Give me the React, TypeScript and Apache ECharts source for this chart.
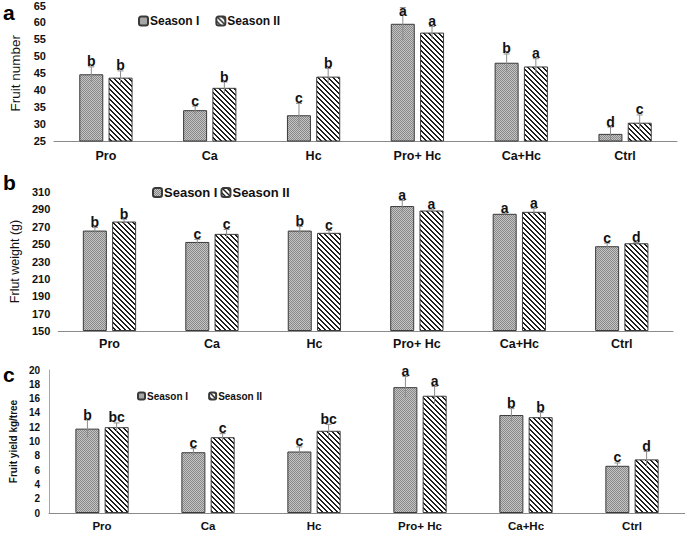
import React, { useEffect, useRef } from "react";
import * as echarts from "echarts";

const categories = ["Pro", "Ca", "Hc", "Pro+ Hc", "Ca+Hc", "Ctrl"];
const seasonNames = ["Season I", "Season II"];

// Panel a: Fruit number
const numberTicks = { min: 25, max: 65, step: 5 };
const numberS1 = [44.7, 34.1, 32.6, 59.6, 48.1, 27.1];
const numberS2 = [43.7, 40.7, 44.0, 57.0, 47.0, 30.4];
const numberErrS1 = [2.2, 1.2, 3.5, 4.8, 2.6, 2.0];
const numberErrS2 = [2.0, 1.7, 2.4, 1.8, 2.3, 2.3];
const numberLetS1 = ["b", "c", "c", "a", "b", "d"];
const numberLetS2 = ["b", "b", "b", "a", "a", "c"];

// Panel b: Fruit weight (g)
const weightTicks = { min: 150, max: 310, step: 20 };
const weightS1 = [265.6, 252.5, 265.6, 293.8, 284.9, 247.6];
const weightS2 = [276.0, 261.8, 263.0, 288.7, 287.2, 251.0];
const weightErrS1 = [3.5, 3.0, 4.6, 6.5, 0.8, 3.5];
const weightErrS2 = [2.7, 5.0, 2.7, 0.8, 3.9, 0.8];
const weightLetS1 = ["b", "c", "b", "a", "a", "c"];
const weightLetS2 = ["b", "c", "c", "a", "a", "d"];

// Panel c: Fruit yield kg/tree
const yieldTicks = { min: 0, max: 20, step: 2 };
const yieldS1 = [11.8, 8.5, 8.6, 17.6, 13.7, 6.6];
const yieldS2 = [12.0, 10.6, 11.5, 16.4, 13.4, 7.5];
const yieldErrS1 = [1.2, 0.5, 0.65, 1.5, 0.9, 0.4];
const yieldErrS2 = [0.6, 0.5, 0.9, 1.3, 0.65, 1.1];
const yieldLetS1 = ["b", "c", "c", "a", "b", "c"];
const yieldLetS2 = ["bc", "c", "bc", "a", "b", "d"];

const FONT = "Arial, 'Liberation Sans', Helvetica, sans-serif";

function makeDots() {
  const n = 4;
  const c = document.createElement("canvas");
  c.width = n;
  c.height = n;
  const g = c.getContext("2d")!;
  for (let x = 0; x < n; x++) {
    for (let y = 0; y < n; y++) {
      g.fillStyle = (x + y) % 2 === 0 ? "#888888" : "#c4c4c4";
      g.fillRect(x, y, 1, 1);
    }
  }
  return c.toDataURL();
}

function makeStripes() {
  const n = 5;
  const c = document.createElement("canvas");
  c.width = n;
  c.height = n;
  const g = c.getContext("2d")!;
  g.fillStyle = "#ffffff";
  g.fillRect(0, 0, n, n);
  g.fillStyle = "#1e1e1e";
  for (let x = 0; x < n; x++) {
    for (let y = 0; y < n; y++) {
      if ((((x - y) % n) + n) % n < 2) g.fillRect(x, y, 1, 1);
    }
  }
  return c.toDataURL();
}

export default function App() {
  const ref = useRef<HTMLDivElement>(null);

  useEffect(() => {
    if (!ref.current) return;
    const chart = echarts.init(ref.current, null, { renderer: "svg" });

    const dots = { image: makeDots(), repeat: "repeat", imageWidth: 4, imageHeight: 4 };
    const stripes = { image: makeStripes(), repeat: "repeat", imageWidth: 5, imageHeight: 5 };
    const fills = [dots, stripes];

    const BAR_W = 24;
    const GAP = "22%";
    const OFF = 14.6;

    const panels = [
      {
        s: [numberS1, numberS2],
        e: [numberErrS1, numberErrS2],
        l: [numberLetS1, numberLetS2],
        t: numberTicks,
        base: 0,
        minLabelY: 18,
      },
      {
        s: [weightS1, weightS2],
        e: [weightErrS1, weightErrS2],
        l: [weightLetS1, weightLetS2],
        t: weightTicks,
        base: weightTicks.min,
        minLabelY: -999,
      },
      {
        s: [yieldS1, yieldS2],
        e: [yieldErrS1, yieldErrS2],
        l: [yieldLetS1, yieldLetS2],
        t: yieldTicks,
        base: 0,
        minLabelY: -999,
      },
    ];
    const letterSize = [14, 14, 14];

    const series: any[] = [];
    panels.forEach((p, gi) => {
      [0, 1].forEach((si) => {
        series.push({
          type: "bar",
          name: seasonNames[si],
          xAxisIndex: gi,
          yAxisIndex: gi,
          barWidth: BAR_W,
          barGap: GAP,
          data: p.s[si].map((v) => +(v - p.base).toFixed(3)),
          itemStyle: { color: fills[si], borderColor: "#3a3a3a", borderWidth: 1 },
          silent: true,
        });
      });
      [0, 1].forEach((si) => {
        const letters = p.l[si];
        const offset = si === 0 ? -OFF : OFF;
        series.push({
          type: "custom",
          name: "err" + gi + si,
          xAxisIndex: gi,
          yAxisIndex: gi,
          clip: false,
          silent: true,
          z: 5,
          encode: { x: 0, y: 1 },
          data: p.s[si].map((v, i) => [i, +(v - p.base).toFixed(3), p.e[si][i]]),
          renderItem: (params: any, api: any) => {
            const i = api.value(0);
            const v = api.value(1);
            const e = api.value(2);
            const top = api.coord([i, v + e]);
            const bot = api.coord([i, v - e]);
            const x = top[0] + offset;
            const ly = Math.max(top[1] + 1.5, p.minLabelY);
            return {
              type: "group",
              children: [
                {
                  type: "line",
                  shape: { x1: x, y1: bot[1], x2: x, y2: top[1] },
                  style: { stroke: "#8c8c8c", lineWidth: 1 },
                },
                {
                  type: "line",
                  shape: { x1: x - 3, y1: top[1], x2: x + 3, y2: top[1] },
                  style: { stroke: "#8c8c8c", lineWidth: 1 },
                },
                {
                  type: "text",
                  x: x,
                  y: ly,
                  style: {
                    text: letters[params.dataIndex],
                    fill: "#111",
                    font: "bold " + letterSize[gi] + "px " + FONT,
                    textAlign: "center",
                    textVerticalAlign: "bottom",
                    align: "center",
                    verticalAlign: "bottom",
                  },
                },
              ],
            };
          },
        });
      });
    });

    const grids = [
      { left: 53, right: 8, top: 5, height: 136 },
      { left: 53, right: 12, top: 192, height: 139 },
      { left: 47, right: 0, top: 370, height: 143 },
    ];

    const xLabel = [
      { fontSize: 12.5, margin: 8 },
      { fontSize: 12.5, margin: 6 },
      { fontSize: 11.5, margin: 7 },
    ];

    const xAxis = grids.map((_, gi) => ({
      type: "category",
      gridIndex: gi,
      data: categories,
      axisTick: { show: false },
      axisLine: { show: true, lineStyle: { color: "#8a8a8a", width: 1 } },
      axisLabel: {
        color: "#111",
        fontWeight: "bold",
        fontFamily: FONT,
        fontSize: xLabel[gi].fontSize,
        margin: xLabel[gi].margin,
        interval: 0,
      },
    }));

    const yNames = ["Fruit number", "Frlut weight (g)", "Fruit yield kg/tree"];
    const yNameStyle = [
      { fontSize: 13.5, fontWeight: "normal", gap: 32 },
      { fontSize: 12.5, fontWeight: "normal", gap: 33 },
      { fontSize: 10, fontWeight: "bold", gap: 28 },
    ];
    const yLabelSize = [11, 11, 10];
    const yLabelMargin = [8, 8, 9];

    const yAxis = panels.map((p, gi) => ({
      type: "value",
      gridIndex: gi,
      min: p.t.min - p.base,
      max: p.t.max - p.base,
      interval: p.t.step,
      name: yNames[gi],
      nameLocation: "middle",
      nameGap: yNameStyle[gi].gap,
      nameTextStyle: {
        color: "#111",
        fontFamily: FONT,
        fontSize: yNameStyle[gi].fontSize,
        fontWeight: yNameStyle[gi].fontWeight,
      },
      splitLine: { show: false },
      axisTick: { show: false },
      axisLine: { show: gi === 2, lineStyle: { color: "#a6a6a6", width: 1 } },
      axisLabel: {
        color: "#111",
        fontWeight: "bold",
        fontFamily: FONT,
        fontSize: yLabelSize[gi],
        margin: yLabelMargin[gi],
        formatter: (v: number) => String(Math.round(v + p.base)),
      },
    }));

    const legendCfg = [
      { left: 133, top: 10, size: 12, icon: 9, gap: 16 },
      { left: 147, top: 181, size: 13, icon: 9, gap: 3 },
      { left: 132, top: 386, size: 10, icon: 7, gap: 20 },
    ];
    const legend = legendCfg.map((c) => ({
      left: c.left,
      top: c.top,
      data: seasonNames,
      itemWidth: c.icon,
      itemHeight: c.icon,
      itemGap: c.gap,
      selectedMode: false,
      textStyle: {
        color: "#111",
        fontWeight: "bold",
        fontFamily: FONT,
        fontSize: c.size,
        padding: [0, 0, 0, -3],
      },
    }));

    const panelLetters = [
      { t: "a", top: 2 },
      { t: "b", top: 172 },
      { t: "c", top: 364 },
    ];

    chart.setOption({
      animation: false,
      backgroundColor: "#ffffff",
      textStyle: { fontFamily: FONT },
      grid: grids,
      xAxis,
      yAxis,
      legend,
      series,
      graphic: panelLetters.map((pl) => ({
        type: "text",
        left: 3,
        top: pl.top,
        style: { text: pl.t, font: "bold 21px " + FONT, fill: "#000" },
      })),
    });

    return () => chart.dispose();
  }, []);

  return (
    <div
      ref={ref}
      style={{ position: "absolute", left: 0, top: 0, width: 685, height: 533 }}
    />
  );
}
